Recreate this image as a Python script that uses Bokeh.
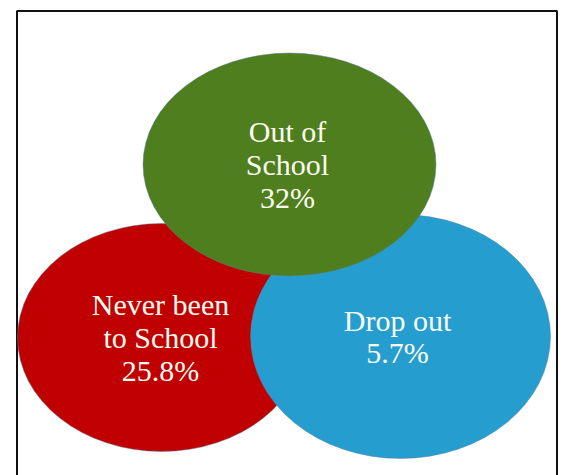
from bokeh.plotting import figure
from bokeh.models import Range1d, ColumnDataSource
from bokeh.core.properties import value
from bokeh.embed import file_html
from bokeh.resources import INLINE

# ---- data ----
categories = ["Never been to School", "Drop out", "Out of School"]
pct_labels = ["25.8%", "5.7%", "32%"]
label_lines = [["Never been", "to School"], ["Drop out"], ["Out of", "School"]]
colors = ["#C00000", "#259ECF", "#4E7E1E"]

# ---- layout (page pixel space, y downward) ----
cx = [161, 400, 289]
cy = [337, 336, 164]
ew = [288, 300, 293]
eh = [228, 244, 223]
text_x = [160, 397, 287]
line_gap = 32.7

W, H = 563, 475
p = figure(width=W, height=H, output_backend="svg", toolbar_location=None,
           x_range=Range1d(0, W), y_range=Range1d(H, 0),
           min_border=0, outline_line_color=None)
p.axis.visible = False
p.grid.visible = False
p.background_fill_color = "white"
p.border_fill_color = "white"

# frame
p.line(x=[16.5, 16.5, 556.5, 556.5], y=[520, 10.5, 10.5, 520], line_color="#111111", line_width=2)

# ellipses: draw order red, blue, green
src = ColumnDataSource(dict(x=cx, y=cy, w=ew, h=eh, c=colors))
p.ellipse(x="x", y="y", width="w", height="h", fill_color="c",
          line_color="#5a7f9a", line_width=0.8, line_alpha=0.6, source=src)

# labels
tx, ty, tt = [], [], []
for i in range(3):
    lines = label_lines[i] + [pct_labels[i]]
    n = len(lines)
    for k, t in enumerate(lines):
        tx.append(text_x[i])
        ty.append(cy[i] + (k - (n - 1) / 2) * line_gap)
        tt.append(t)
p.text(x=tx, y=ty, text=tt, text_font=value("Liberation Serif"),
       text_font_size="30px", text_color="#FBFBF0", text_align="center",
       text_baseline="middle")

open("out.html", "w").write(file_html(p, INLINE))
